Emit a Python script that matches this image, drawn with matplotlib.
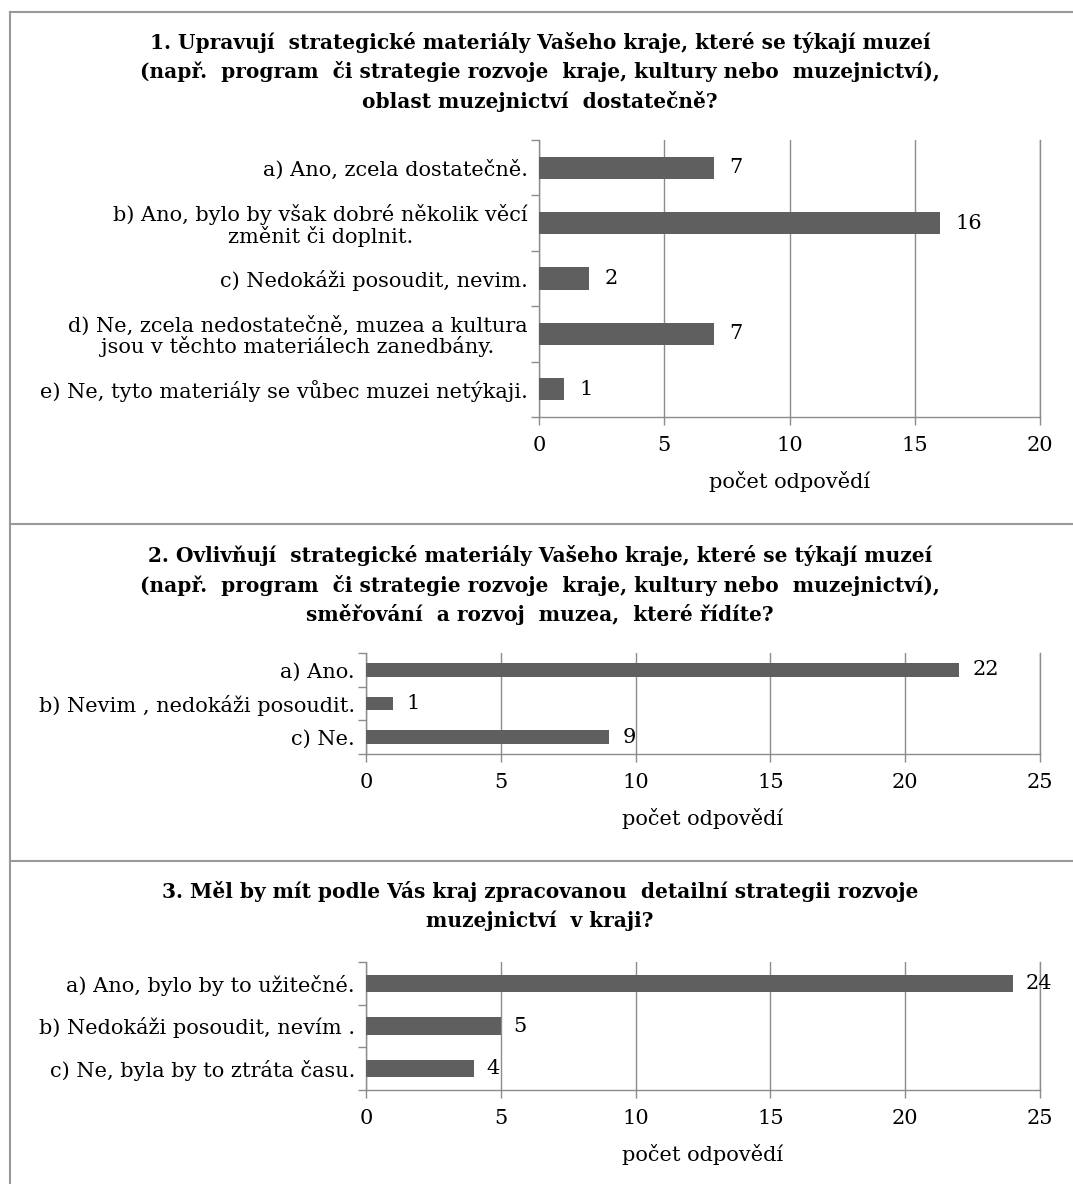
import matplotlib
matplotlib.use("Agg")
from matplotlib import pyplot as plt
from matplotlib.lines import Line2D
import numpy as np

plt.rcParams['font.family'] = ['DejaVu Serif']

# otázka 1
otazka1 = "1. Upravují  strategické materiály Vašeho kraje, které se týkají muzeí\n(např.  program  či strategie rozvoje  kraje, kultury nebo  muzejnictví),\noblast muzejnictví  dostatečně?"
odpovedi1 = ["a) Ano, zcela dostatečně.",
             "b) Ano, bylo by však dobré několik věcí\nzměnit či doplnit.",
             "c) Nedokáži posoudit, nevim.",
             "d) Ne, zcela nedostatečně, muzea a kultura\njsou v těchto materiálech zanedbány.",
             "e) Ne, tyto materiály se vůbec muzei netýkaji."]
pocty1 = [7, 16, 2, 7, 1]

# otázka 2
otazka2 = "2. Ovlivňují  strategické materiály Vašeho kraje, které se týkají muzeí\n(např.  program  či strategie rozvoje  kraje, kultury nebo  muzejnictví),\nsměřování  a rozvoj  muzea,  které řídíte?"
odpovedi2 = ["a) Ano.", "b) Nevim , nedokáži posoudit.", "c) Ne."]
pocty2 = [22, 1, 9]

# otázka 3
otazka3 = "3. Měl by mít podle Vás kraj zpracovanou  detailní strategii rozvoje\nmuzejnictví  v kraji?"
odpovedi3 = ["a) Ano, bylo by to užitečné.", "b) Nedokáži posoudit, nevím .", "c) Ne, byla by to ztráta času."]
pocty3 = [24, 5, 4]

x_popis = "počet odpovědí"

W, H = 1073, 1184
fig = plt.figure(figsize=(W / 100, H / 100), dpi=100)

SEDA = '#5f5f5f'
MRIZKA = '#8c8c8c'
FS = 15
FS_NADPIS = 14.5


def graf(rect, odpovedi, pocty, xmax, ofs):
    ax = fig.add_axes(rect)
    n = len(odpovedi)
    y = np.arange(n)
    ax.barh(y, pocty, height=0.4, color=SEDA, zorder=3)
    ax.set_ylim(n - 0.5, -0.5)
    ax.set_xlim(0, xmax)
    ax.set_xticks(np.arange(0, xmax + 1, 5))
    ax.set_yticks(y)
    ax.set_yticklabels(odpovedi, fontsize=FS)
    for t in ax.get_yticklabels():
        t.set_multialignment('center')
        t.set_linespacing(1.05)
    ax.set_yticks(np.arange(n + 1) - 0.5, minor=True)
    ax.tick_params(axis='y', which='major', length=0, pad=8)
    ax.tick_params(axis='y', which='minor', length=6, color=MRIZKA, width=1)
    ax.tick_params(axis='x', length=6, color=MRIZKA, width=1, pad=8, labelsize=FS)
    ax.grid(axis='x', color=MRIZKA, linewidth=1, zorder=0)
    ax.spines['top'].set_visible(False)
    for s in ['left', 'bottom', 'right']:
        ax.spines[s].set_color(MRIZKA)
        ax.spines[s].set_linewidth(1)
    for yi, v in zip(y, pocty):
        ax.annotate(str(v), (v, yi), xytext=(ofs, 0), textcoords='offset points',
                    ha='left', va='center', fontsize=FS)
    ax.set_xlabel(x_popis, fontsize=FS, labelpad=11)
    return ax


graf([539 / W, 1 - 417 / H, 501 / W, 277 / H], odpovedi1, pocty1, 20, 11)
graf([366 / W, 1 - 754 / H, 674 / W, 101 / H], odpovedi2, pocty2, 25, 10)
graf([366 / W, 1 - 1090 / H, 674 / W, 128 / H], odpovedi3, pocty3, 25, 9)

for text, yc in [(otazka1, 72), (otazka2, 585), (otazka3, 906)]:
    fig.text(540 / W, 1 - yc / H, text, ha='center', va='center', fontsize=FS_NADPIS,
             fontweight='bold', linespacing=1.48)

# rámeček kolem grafů
RAM = '#999999'
x0 = 10 / W
for yy in [12, 524, 861]:
    fig.add_artist(Line2D([x0, 1], [1 - yy / H, 1 - yy / H], color=RAM, linewidth=1.5))
fig.add_artist(Line2D([x0, x0], [1 - 12 / H, 0], color=RAM, linewidth=1.5))

fig.savefig("out.png", dpi=100)
